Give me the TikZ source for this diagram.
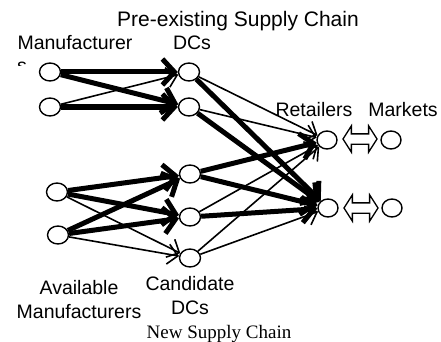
\documentclass[tikz,border=0pt]{standalone}
\usepackage{fontspec}
\setmainfont{Liberation Sans}
\newfontfamily\timesfont{Liberation Serif}
\usetikzlibrary{arrows.meta,shapes.geometric,shapes.arrows}

\tikzset{
  site/.style={draw, ellipse, line width=1.4pt, fill=white, inner sep=0pt,
    minimum width=21pt, minimum height=18pt},
  lane/.style={line width=1.6pt, -{Straight Barb[length=10pt,width=20pt]}},
  heavy/.style={line width=5pt, -{Straight Barb[length=12pt,width=26pt]}},
  link/.style={draw, fill=white, line width=1.3pt, double arrow, inner sep=4.5pt,
    double arrow head extend=8pt, double arrow tip angle=115, minimum height=34pt},
  lbl/.style={font=\fontsize{19.5}{24}\selectfont, align=center, inner sep=0pt}
}

\begin{document}
\begin{tikzpicture}[x=1pt,y=-1pt]
    \path[use as bounding box] (0,0) rectangle (441,342);

    \node (old-title) at (238,27) [lbl, anchor=base, font=\fontsize{21}{24}\selectfont] {Pre-existing Supply Chain};
    \node (new-title) at (219,338) [lbl, anchor=base, font=\timesfont\fontsize{19}{22}\selectfont] {New Supply Chain};

    \node (maker-label) at (75,50) [lbl, anchor=base] {Manufacturer};
    \begin{scope}
      \clip (0,56) rectangle (40,66);
      \node (maker-tail) at (17,73) [lbl, anchor=base west] {s};
    \end{scope}
    \node (dc-label) at (192,50) [lbl, anchor=base] {DCs};
    \node (retailer-label) at (314,117) [lbl, anchor=base] {Retailers};
    \node (market-label) at (403,117) [lbl, anchor=base] {Markets};
    \node (avail-label) at (79,300) [lbl] {Available\\Manufacturers};
    \node (cand-label) at (190,296) [lbl] {Candidate\\DCs};

    \node (A-maker) at (50,72) [site] {};
    \node (B-maker) at (50,107) [site] {};
    \node (C-maker) at (57,192) [site] {};
    \node (D-maker) at (58,235) [site] {};

    \node (A-dc) at (189,72) [site] {};
    \node (B-dc) at (189,107) [site] {};
    \node (C-dc) at (190,174) [site] {};
    \node (D-dc) at (190,217) [site] {};
    \node (E-dc) at (190,258) [site] {};

    \node (A-retailer) at (327,140) [site, minimum width=20pt] {};
    \node (B-retailer) at (328,208) [site, minimum width=20pt] {};

    \node (A-market) at (391,140) [site, minimum width=20pt] {};
    \node (B-market) at (392,208) [site, minimum width=20pt] {};

    \node (A-link) at (360,139) [link] {};
    \node (B-link) at (361,208) [link] {};

    % pre-existing chain
    \draw [heavy] (A-maker) -- (A-dc);
    \draw [heavy] (A-maker) -- (B-dc);
    \draw [lane] (B-maker) -- (A-dc);
    \draw [heavy] (B-maker) -- (B-dc);

    \draw [lane] (A-dc) -- (A-retailer);
    \draw [heavy] (A-dc) -- (B-retailer);
    \draw [lane] (B-dc) -- (A-retailer);
    \draw [heavy] (B-dc) -- (B-retailer);

    % new chain
    \draw [heavy] (C-maker) -- (C-dc);
    \draw [heavy] (C-maker) -- (D-dc);
    \draw [lane] (C-maker) -- (E-dc);
    \draw [heavy] (D-maker) -- (C-dc);
    \draw [heavy] (D-maker) -- (D-dc);
    \draw [lane] (D-maker) -- (E-dc);

    \draw [heavy] (C-dc) -- (A-retailer);
    \draw [heavy] (C-dc) -- (B-retailer);
    \draw [lane] (D-dc) -- (A-retailer);
    \draw [heavy] (D-dc) -- (B-retailer);
    \draw [lane] (E-dc) -- (A-retailer);
    \draw [lane] (E-dc) -- (B-retailer);
\end{tikzpicture}
\end{document}
